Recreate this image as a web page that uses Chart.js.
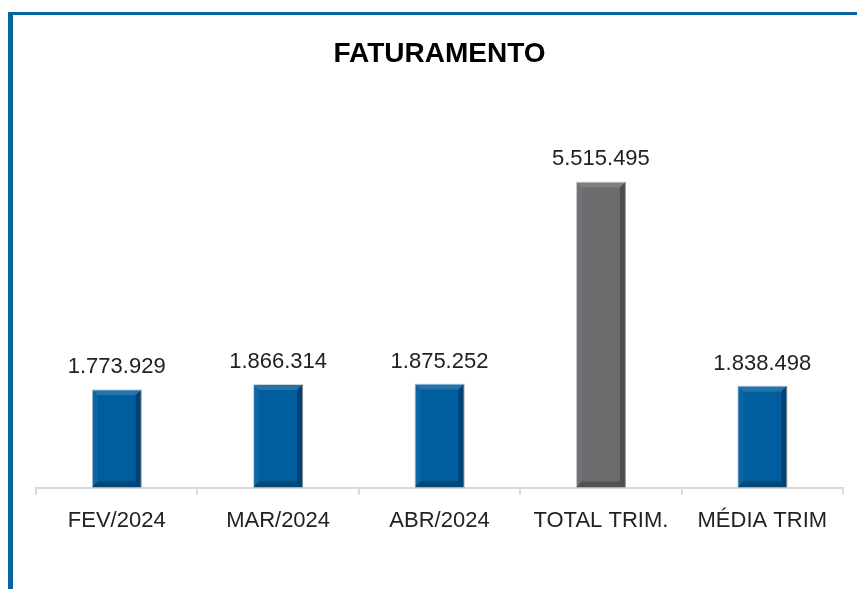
<!DOCTYPE html>
<html>
<head>
<meta charset="utf-8">
<script src="https://cdn.jsdelivr.net/npm/chart.js@4/dist/chart.umd.min.js"></script>
<style>
  html, body { margin: 0; padding: 0; background: #fff; }
  #wrap { position: relative; width: 857px; height: 589px; overflow: hidden; }
  #frame { position: absolute; left: 8px; top: 12px; right: 0; bottom: 0;
           border-left: 5px solid #0565a3; border-top: 3px solid #0565a3; }
  #chart_faturamento { position: absolute; left: 0; top: 0; }
</style>
</head>
<body>
<div id="wrap">
  <div id="frame"></div>
  <canvas id="chart_faturamento" width="857" height="589"></canvas>
</div>
<script>
// values
var categories = ['FEV/2024', 'MAR/2024', 'ABR/2024', 'TOTAL TRIM.', 'MÉDIA TRIM'];
var faturamento = [1773929, 1866314, 1875252, 5515495, 1838498];
var barColors = ['#005e9e', '#005e9e', '#005e9e', '#6b6c6e', '#005e9e'];

var FONT = '"Liberation Sans", Arial, sans-serif';

function formatBR(v) {
    return String(Math.round(v)).replace(/\B(?=(\d{3})+(?!\d))/g, '.');
}

var bevelPlugin = {
    id: 'bevel',
    afterDatasetsDraw: function(chart) {
        var ctx = chart.ctx;
        var meta = chart.getDatasetMeta(0);
        ctx.save();
        meta.data.forEach(function(bar) {
            var p = bar.getProps(['x', 'y', 'base', 'width'], true);
            var l = p.x - p.width / 2, r = p.x + p.width / 2, t = p.y, b = p.base, s = 6;
            function poly(pts, fill) {
                ctx.beginPath();
                ctx.moveTo(pts[0][0], pts[0][1]);
                for (var i = 1; i < pts.length; i++) ctx.lineTo(pts[i][0], pts[i][1]);
                ctx.closePath();
                ctx.fillStyle = fill;
                ctx.fill();
            }
            poly([[l, t], [r, t], [r - s, t + s], [l + s, t + s]], 'rgba(255,255,255,0.14)');
            poly([[l, t], [l + s, t + s], [l + s, b - s], [l, b]], 'rgba(255,255,255,0.05)');
            poly([[r, t], [r - s, t + s], [r - s, b - s], [r, b]], 'rgba(0,0,0,0.28)');
            poly([[l, b], [l + s, b - s], [r - s, b - s], [r, b]], 'rgba(0,0,0,0.25)');
        });
        ctx.restore();
    }
};

var valueLabelPlugin = {
    id: 'valueLabels',
    afterDatasetsDraw: function(chart) {
        var ctx = chart.ctx;
        var meta = chart.getDatasetMeta(0);
        ctx.save();
        ctx.font = '22px ' + FONT;
        ctx.fillStyle = '#222';
        ctx.textAlign = 'center';
        ctx.textBaseline = 'alphabetic';
        meta.data.forEach(function(bar, i) {
            ctx.fillText(formatBR(faturamento[i]), bar.x, bar.y - 16);
        });
        ctx.restore();
    }
};

var chart_faturamento = new Chart(document.getElementById('chart_faturamento'), {
    type: 'bar',
    data: {
        labels: categories,
        datasets: [
            {
                label: 'Faturamento',
                data: faturamento,
                backgroundColor: barColors,
                borderColor: '#c9ced4',
                borderWidth: 1,
                barPercentage: 0.31,
                categoryPercentage: 1
            }
        ]
    },
    options: {
        animation: false,
        responsive: false,
        layout: {
            padding: { left: 36, right: 14, top: 0, bottom: 42 }
        },
        plugins: {
            legend: { display: false },
            tooltip: { enabled: false },
            title: {
                display: true,
                text: 'FATURAMENTO',
                color: '#000',
                font: { family: FONT, size: 28, weight: 'bold', lineHeight: 1.2 },
                padding: { top: 37, bottom: 84 }
            }
        },
        scales: {
            x: {
                grid: {
                    offset: true,
                    drawOnChartArea: false,
                    drawTicks: true,
                    tickLength: 7,
                    color: '#d9d9d9',
                    lineWidth: 2
                },
                border: { display: true, color: '#d9d9d9', width: 2 },
                ticks: {
                    color: '#222',
                    padding: 13,
                    font: { family: FONT, size: 22 }
                }
            },
            y: {
                display: false,
                min: 0,
                max: 6000000
            }
        }
    },
    plugins: [bevelPlugin, valueLabelPlugin]
});
</script>
</body>
</html>
